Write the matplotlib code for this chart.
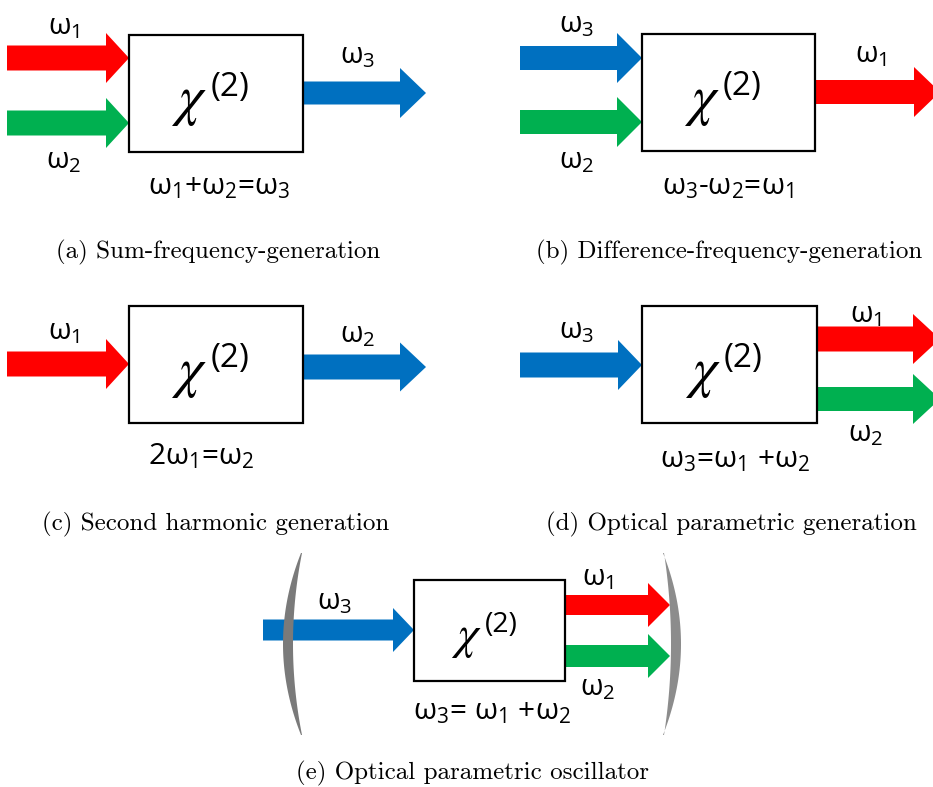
import matplotlib
matplotlib.use("Agg")
import matplotlib.pyplot as plt
from matplotlib.patches import Polygon, Rectangle
import numpy as np

plt.rcParams['mathtext.default'] = 'regular'

RED = '#FF0000'
GREEN = '#00B050'
BLUE = '#0070C0'

# ---- content ----
captions = ['(a) Sum-frequency-generation',
            '(b) Difference-frequency-generation',
            '(c) Second harmonic generation',
            '(d) Optical parametric generation',
            '(e) Optical parametric oscillator']
equations = ['ω$_1$+ω$_2$=ω$_3$',
             'ω$_3$-ω$_2$=ω$_1$',
             '2ω$_1$=ω$_2$',
             'ω$_3$=ω$_1$ +ω$_2$',
             'ω$_3$= ω$_1$ +ω$_2$']
chi_symbol = r'$\mathit{\chi}$'
chi_order = '(2)'

# ---- layout (pixel coordinates, y downward) ----
box_x = [129, 642, 129, 642, 414]
box_y = [35, 34, 306, 306, 580]
box_w = [174, 173, 174, 175, 151]
box_h = [117, 117, 117, 117, 101]
chi_scale = [1.0, 1.0, 1.0, 1.0, 0.85]
eq_pos = [(219, 187), (728, 187), (201, 456), (735, 460), (492, 712)]
caption_pos = [(218, 252), (729, 252), (216, 524), (731, 524), (472, 773)]

# arrows: (x_start, x_tip, y_center, color, shaft_w, head_w, head_len)
arrows = [
    (7, 129, 58, RED, 25, 50, 23), (7, 129, 123, GREEN, 25, 50, 23),
    (303, 426, 93, BLUE, 23, 50, 26),
    (520, 642, 58, BLUE, 24, 50, 25), (520, 642, 122, GREEN, 24, 50, 25),
    (815, 940, 92, RED, 24, 50, 26),
    (7, 129, 364, RED, 25, 50, 23), (303, 426, 367, BLUE, 25, 49, 26),
    (520, 642, 365, BLUE, 25, 50, 24),
    (817, 940, 339, RED, 25, 50, 27), (817, 940, 399, GREEN, 24, 50, 27),
    (263, 414, 630, BLUE, 21, 44, 21),
    (565, 670, 605, RED, 20, 44, 22), (565, 670, 656, GREEN, 22, 44, 22),
]
# omega labels: (text, x, y)
omega_labels = [
    ('ω$_1$', 64, 27), ('ω$_2$', 64, 161), ('ω$_3$', 358, 56),
    ('ω$_3$', 577, 25), ('ω$_2$', 577, 161), ('ω$_1$', 871, 55),
    ('ω$_1$', 64, 332), ('ω$_2$', 358, 335),
    ('ω$_3$', 577, 331), ('ω$_1$', 866, 315), ('ω$_2$', 866, 434),
    ('ω$_3$', 335, 602), ('ω$_1$', 598, 578), ('ω$_2$', 598, 688),
]

fig = plt.figure(figsize=(9.33, 7.87), dpi=100)
ax = fig.add_axes([0, 0, 1, 1])
ax.set_xlim(0, 933)
ax.set_ylim(787, 0)
ax.axis('off')


def arrow(x0, x1, yc, color, sw, hw, hl):
    xb = x1 - hl
    pts = [(x0, yc - sw / 2), (xb, yc - sw / 2), (xb, yc - hw / 2), (x1, yc),
           (xb, yc + hw / 2), (xb, yc + sw / 2), (x0, yc + sw / 2)]
    ax.add_patch(Polygon(pts, closed=True, facecolor=color, edgecolor='none', zorder=2))


for a in arrows:
    arrow(*a)

for i in range(5):
    ax.add_patch(Rectangle((box_x[i], box_y[i]), box_w[i], box_h[i], facecolor='white',
                           edgecolor='black', lw=1.6, zorder=3))
    cx = box_x[i] + box_w[i] / 2
    cy = box_y[i] + box_h[i] / 2
    s = chi_scale[i]
    ax.text(cx - 27 * s, cy + 8 * s, chi_symbol, fontsize=40 * s, math_fontfamily='stix',
            ha='center', va='center', zorder=4)
    ax.text(cx + 14 * s, cy - 6 * s, chi_order, fontsize=24 * s, family='Open Sans',
            ha='center', va='center', zorder=4)
    ax.text(eq_pos[i][0], eq_pos[i][1], equations[i], fontsize=21.5, family='Open Sans',
            ha='center', va='center', zorder=4)
    ax.text(caption_pos[i][0], caption_pos[i][1], captions[i], fontsize=18, family='cmr10',
            ha='center', va='center', zorder=4)

for t, x, y in omega_labels:
    ax.text(x, y, t, fontsize=21, family='Open Sans', ha='center', va='center', zorder=4)

# cavity mirrors (crescent shapes)
yy = np.linspace(553, 735, 60)
t = (yy - 644) / 91
left_outer = 283 + 18 * t ** 2
left_inner = 293 + 9 * t ** 2
right_outer = 681 - 18 * t ** 2
right_inner = 671 - 7 * t ** 2
ax.add_patch(Polygon(np.vstack([np.column_stack([left_outer, yy]),
                                np.column_stack([left_inner[::-1], yy[::-1]])]),
                     closed=True, facecolor='#7a7a7a', edgecolor='none', zorder=5))
ax.add_patch(Polygon(np.vstack([np.column_stack([right_outer, yy]),
                                np.column_stack([right_inner[::-1], yy[::-1]])]),
                     closed=True, facecolor='#8c8c8c', edgecolor='none', zorder=5))

fig.savefig('out.png', dpi=100)
